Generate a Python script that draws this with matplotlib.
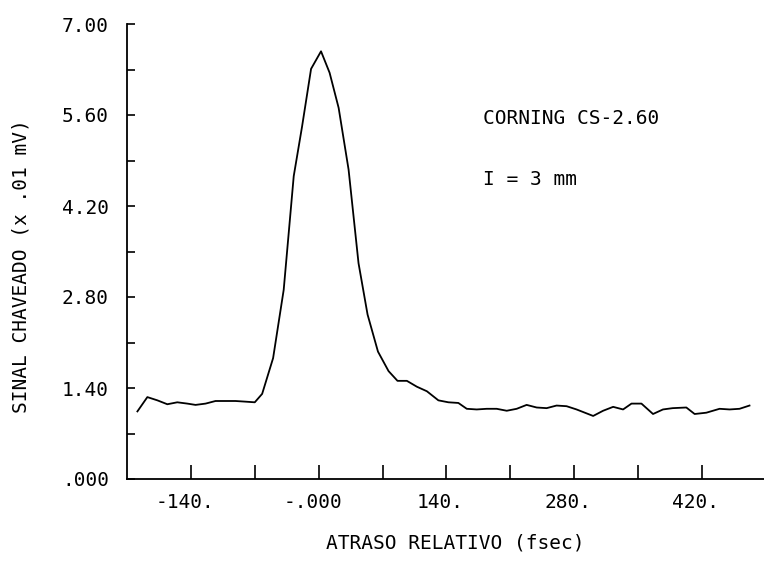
import matplotlib
matplotlib.use("Agg")
from matplotlib import pyplot as plt
from matplotlib import transforms

# delay (fsec) and gated signal (x .01 mV)
delay = [-198.6, -187.7, -176.7, -165.8, -154.9, -143.9, -134.9, -123.9, -113.0, -102.0,
         -91.1, -80.2, -70.0, -61.9, -49.9, -38.3, -27.3, -18.2, -8.3, 2.6,
         12.0, 21.9, 32.8, 43.7, 53.6, 65.0, 76.6, 86.4, 96.7, 107.6,
         118.6, 131.2, 142.2, 153.1, 162.3, 173.2, 184.2, 195.1, 206.1, 217.0,
         227.9, 238.9, 249.8, 260.7, 271.7, 282.6, 291.7, 300.8, 311.7, 322.7,
         333.6, 342.8, 353.7, 366.4, 377.3, 387.9, 402.9, 412.0, 424.8, 439.3,
         450.3, 461.2, 472.1]
signal = [1.04, 1.26, 1.21, 1.15, 1.18, 1.16, 1.14, 1.16, 1.20, 1.20,
          1.20, 1.19, 1.18, 1.31, 1.86, 2.91, 4.66, 5.42, 6.31, 6.58,
          6.25, 5.71, 4.76, 3.32, 2.53, 1.96, 1.66, 1.51, 1.51, 1.42,
          1.35, 1.21, 1.18, 1.17, 1.08, 1.07, 1.08, 1.08, 1.05, 1.08,
          1.14, 1.10, 1.09, 1.13, 1.12, 1.07, 1.02, 0.97, 1.05, 1.11,
          1.07, 1.16, 1.16, 1.00, 1.07, 1.09, 1.10, 1.00, 1.02, 1.08,
          1.07, 1.08, 1.13]

xticks = [-140, 0, 140, 280, 420]
xlabels = ["-140.", "-.000", "140.", "280.", "420."]
xminor = [-70, 70, 210, 350]
yticks = [0, 1.4, 2.8, 4.2, 5.6, 7.0]
ylabels = [".000", "1.40", "2.80", "4.20", "5.60", "7.00"]
yminor = [0.7, 2.1, 3.5, 4.9, 6.3]

font = "DejaVu Sans Mono"
fs = 14

fig = plt.figure(figsize=(7.64, 5.81), dpi=100)
ax = fig.add_axes([127 / 764, 1 - 479 / 581, 1 - 127 / 764, (479 - 24) / 581])

ax.plot(delay, signal, color="black", lw=1.3)

ax.set_xlim(-210, 488)
ax.set_ylim(0, 7.0)
ax.spines["top"].set_visible(False)
ax.spines["right"].set_visible(False)
ax.spines["left"].set_linewidth(1.3)
ax.spines["bottom"].set_linewidth(1.3)

ax.set_xticks(xticks)
ax.set_xticklabels(xlabels, fontfamily=font, fontsize=fs)
ax.set_xticks(xminor, minor=True)
ax.set_yticks(yticks)
ax.set_yticklabels(ylabels, fontfamily=font, fontsize=fs)
ax.set_yticks(yminor, minor=True)

ax.tick_params(axis="x", which="both", direction="in", length=10, width=1.2, pad=10)
ax.tick_params(axis="y", which="both", direction="in", length=6, width=1.2, pad=13)

# labels sit a little left of their ticks in the original
shift = transforms.ScaledTranslation(-6 / 100, 0, fig.dpi_scale_trans)
for lab in ax.get_xticklabels():
    lab.set_transform(lab.get_transform() + shift)

fig.text(483 / 764, 1 - 118 / 581, "CORNING CS-2.60", fontfamily=font, fontsize=fs,
         va="center", ha="left")
fig.text(483 / 764, 1 - 180 / 581, "I = 3 mm", fontfamily=font, fontsize=fs,
         va="center", ha="left")

fig.text(21 / 764, 1 - 266 / 581, "SINAL CHAVEADO (x .01 mV)", rotation=90,
         fontfamily=font, fontsize=fs, va="center", ha="center")
fig.text(455 / 764, 1 - 543 / 581, "ATRASO RELATIVO (fsec)",
         fontfamily=font, fontsize=fs, va="center", ha="center")

fig.savefig("out.png", dpi=100)
